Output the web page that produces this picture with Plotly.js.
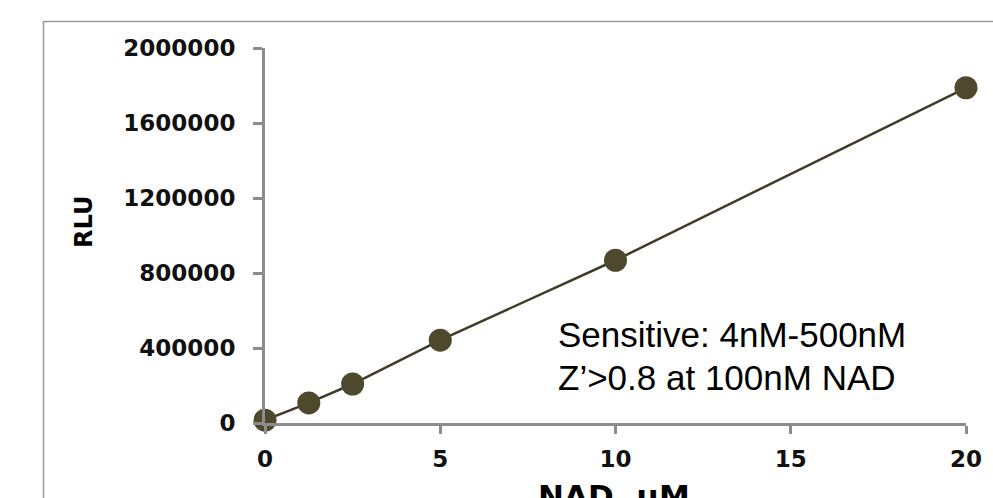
<!DOCTYPE html>
<html>
<head>
<meta charset="utf-8">
<script src="https://cdn.plot.ly/plotly-3.0.1.min.js"></script>
<style>html,body{margin:0;padding:0;background:#fff;}#chart{width:993px;height:498px;}</style>
</head>
<body>
<div id="chart"></div>
<script>
const nadConc = [0, 1.25, 2.5, 5, 10, 20];
const rluValues = [15000, 107000, 208000, 442000, 868000, 1788000];
const xTickVals = [0, 5, 10, 15, 20];
const yTickVals = [0, 400000, 800000, 1200000, 1600000, 2000000];
const yTickText = ["0", "400000", "800000", "1200000", "1600000", "2000000"];
const noteLines = ["Sensitive: 4nM-500nM", "Z\u2019>0.8 at 100nM NAD"];
const xTitle = "NAD, \u00b5M";
const yTitle = "RLU";

const W = 993, H = 498, L = 265, R = 27, T = 48, B = 75;
const pw = W - L - R, ph = H - T - B;
const px = v => (v - L) / pw;
const py = v => (H - B - v) / ph;

const tickFont = {family: "DejaVu Sans", size: 23, color: "#111", weight: "bold"};

const trace = {
  x: nadConc, y: rluValues, type: "scatter", mode: "lines+markers",
  line: {color: "#3f3b28", width: 2.5},
  marker: {color: "#4e482d", size: 23},
  cliponaxis: false, hoverinfo: "skip"
};

const layout = {
  width: W, height: H,
  margin: {l: L, r: R, t: T, b: B, pad: 0},
  paper_bgcolor: "#fff", plot_bgcolor: "#fff",
  showlegend: false,
  xaxis: {
    range: [0, 20], tickvals: xTickVals, ticktext: xTickVals.map(String),
    showgrid: false, zeroline: false, showline: true, linecolor: "#8c8c8c", linewidth: 3,
    ticks: "outside", ticklen: 8, tickwidth: 3, tickcolor: "#8c8c8c",
    tickfont: tickFont, ticklabelstandoff: 5
  },
  yaxis: {
    range: [0, 2000000], tickvals: yTickVals, ticktext: yTickText,
    showgrid: false, zeroline: false, showline: true, linecolor: "#8c8c8c", linewidth: 3,
    ticks: "outside", ticklen: 9, tickwidth: 3, tickcolor: "#8c8c8c",
    tickfont: tickFont, ticklabelstandoff: 13
  },
  shapes: [{
    type: "rect", xref: "paper", yref: "paper",
    x0: px(43.5), x1: px(1010), y0: py(520), y1: py(21.5),
    line: {color: "#9a9a9a", width: 1.5}, layer: "below"
  }],
  annotations: [
    {xref: "paper", yref: "paper", x: px(556), y: py(334), xanchor: "left", yanchor: "middle",
     text: noteLines[0], showarrow: false, font: {family: "Liberation Sans", size: 35, color: "#000"}},
    {xref: "paper", yref: "paper", x: px(556), y: py(377), xanchor: "left", yanchor: "middle",
     text: noteLines[1], showarrow: false, font: {family: "Liberation Sans", size: 35, color: "#000"}},
    {xref: "paper", yref: "paper", x: px(84), y: py(222), xanchor: "center", yanchor: "middle",
     textangle: -90, text: "<b>" + yTitle + "</b>", showarrow: false,
     font: {family: "DejaVu Sans", size: 24, color: "#000"}},
    {xref: "paper", yref: "paper", x: px(614), y: py(476), xanchor: "center", yanchor: "top",
     text: "<b>" + xTitle + "</b>", showarrow: false,
     font: {family: "DejaVu Sans", size: 31, color: "#000"}}
  ]
};

Plotly.newPlot("chart", [trace], layout, {displayModeBar: false, staticPlot: true});
</script>
</body>
</html>
